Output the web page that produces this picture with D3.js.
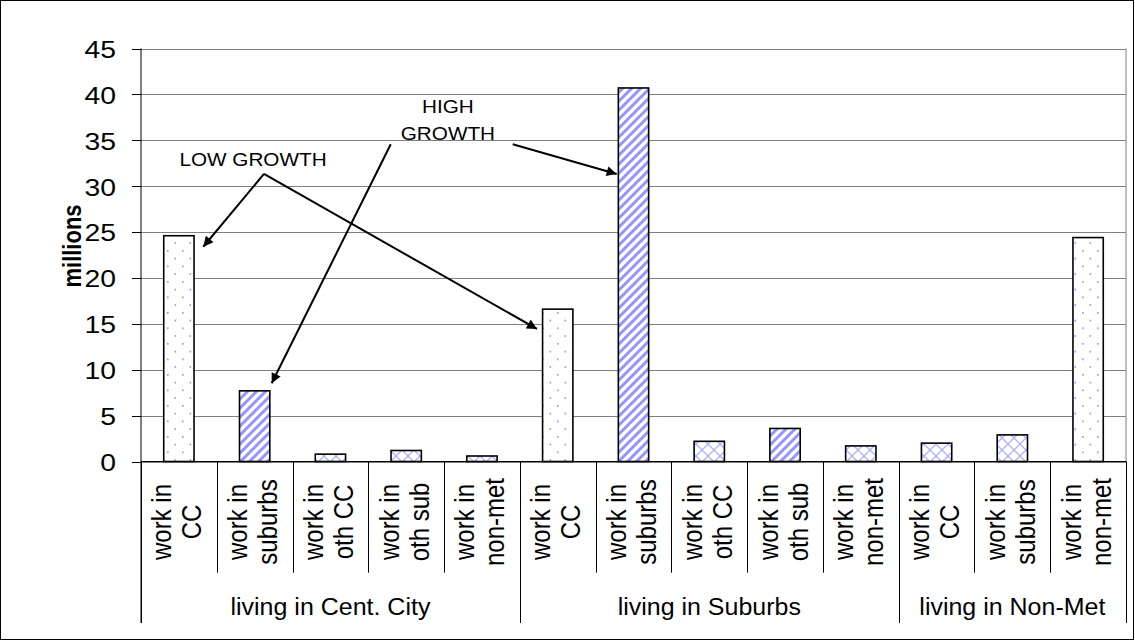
<!DOCTYPE html>
<html>
<head>
<meta charset="utf-8">
<script src="https://cdn.jsdelivr.net/npm/d3@7"></script>
<style>
  body { margin: 0; background: #fff; }
  svg { display: block; }
  text { font-family: "Liberation Sans", Arial, sans-serif; fill: #000; }
</style>
</head>
<body>
<svg id="chart" width="1135" height="641"></svg>
<script>
// category labels (two lines each, drawn rotated)
const workLabels = [
    ["work in", "CC"], ["work in", "suburbs"], ["work in", "oth CC"], ["work in", "oth sub"], ["work in", "non-met"],
    ["work in", "CC"], ["work in", "suburbs"], ["work in", "oth CC"], ["work in", "oth sub"], ["work in", "non-met"],
    ["work in", "CC"], ["work in", "suburbs"], ["work in", "non-met"]
];
const groupNames = ["living in Cent. City", "living in Suburbs", "living in Non-Met"];
const groupSizes = [5, 5, 3];

// commuters, millions
const values = [24.6, 7.7, 0.8, 1.2, 0.6, 16.6, 40.7, 2.2, 3.6, 1.7, 2.0, 2.9, 24.4];
const fills = ["dots", "stripes", "cross", "cross", "cross", "dots", "stripes", "cross", "stripes", "cross", "cross", "cross", "dots"];

const yTicks = [0, 5, 10, 15, 20, 25, 30, 35, 40, 45];

// annotations: [category position, value]
const noteTexts = [
    { text: "LOW GROWTH", pos: [1.478, 32.2] },
    { text: "HIGH", pos: [4.05, 37.94] },
    { text: "GROWTH", pos: [4.05, 35.03] }
];
const arrows = [
    [[1.623, 31.33], [0.822, 23.4]],
    [[1.623, 31.33], [5.226, 14.44]],
    [[3.296, 34.56], [1.725, 8.52]],
    [[4.906, 34.56], [6.278, 31.33]]
];

const W = 1135, H = 641;
const plotLeft = 141, plotRight = 1126, plotTop = 48.5, plotBottom = 461.5;
const sx = 1.18; // tick and category text in the original is a little wider than tall

const svg = d3.select('#chart');

// outer frame
svg.append('rect')
    .attr('x', 0.5).attr('y', 0.5)
    .attr('width', W - 2).attr('height', H - 2)
    .attr('fill', '#fff').attr('stroke', '#000');

// patterns
const defs = svg.append('defs');
const pDots = defs.append('pattern').attr('id', 'dots')
    .attr('patternUnits', 'userSpaceOnUse').attr('width', 15).attr('height', 15.5);
pDots.append('rect').attr('width', 15).attr('height', 15.5).attr('fill', '#fff');
pDots.append('rect').attr('x', 2).attr('y', 2).attr('width', 1.6).attr('height', 1.6).attr('fill', '#8c8cff');
pDots.append('rect').attr('x', 9.5).attr('y', 9.75).attr('width', 1.6).attr('height', 1.6).attr('fill', '#8c8cff');

const pStripes = defs.append('pattern').attr('id', 'stripes')
    .attr('patternUnits', 'userSpaceOnUse').attr('width', 9).attr('height', 9);
pStripes.append('rect').attr('width', 9).attr('height', 9).attr('fill', '#fff');
pStripes.append('path')
    .attr('d', 'M-1,1 l2,-2 M0,9 l9,-9 M8,10 l2,-2')
    .attr('stroke', '#9494ff').attr('stroke-width', 3);

const pCross = defs.append('pattern').attr('id', 'cross')
    .attr('patternUnits', 'userSpaceOnUse').attr('width', 12).attr('height', 12);
pCross.append('rect').attr('width', 12).attr('height', 12).attr('fill', '#fff');
pCross.append('path')
    .attr('d', 'M0,0 L12,12 M12,0 L0,12')
    .attr('stroke', '#b0b0ff').attr('stroke-width', 1.3);

defs.append('marker').attr('id', 'head')
    .attr('viewBox', '0 0 10 10').attr('refX', 10).attr('refY', 5)
    .attr('markerWidth', 6).attr('markerHeight', 5)
    .attr('markerUnits', 'strokeWidth').attr('orient', 'auto')
    .append('path').attr('d', 'M0,0 L10,5 L0,10 Z').attr('fill', '#000');

// scales
const x = d3.scaleBand()
    .domain(d3.range(values.length))
    .range([plotLeft, plotRight])
    .paddingInner(0.6)
    .paddingOuter(0.3);
const step = x.step();
const xPos = p => plotLeft + p * step;

const y = d3.scaleLinear().domain([0, 45]).range([plotBottom, plotTop]);

// grid lines
svg.append('g')
    .attr('transform', `translate(${plotLeft},0)`)
    .call(d3.axisLeft(y).tickValues(yTicks).tickSize(-(plotRight - plotLeft)).tickFormat(''))
    .call(g => g.select('.domain').remove())
    .selectAll('line')
    .attr('stroke', '#808080')
    .attr('shape-rendering', 'crispEdges');

// plot border on the right
svg.append('line')
    .attr('x1', plotRight).attr('x2', plotRight).attr('y1', plotTop).attr('y2', plotBottom)
    .attr('stroke', '#808080');

// bars
svg.selectAll('.bar')
    .data(values)
    .enter()
    .append('rect')
    .attr('class', 'bar')
    .attr('x', (d, i) => x(i))
    .attr('width', x.bandwidth())
    .attr('y', d => y(d))
    .attr('height', d => plotBottom - y(d))
    .attr('fill', (d, i) => `url(#${fills[i]})`)
    .attr('stroke', '#000')
    .attr('stroke-width', 1.6);

// y axis
const yAxis = svg.append('g')
    .attr('transform', `translate(${plotLeft},0)`)
    .call(d3.axisLeft(y).tickValues(yTicks).tickSize(9).tickSizeOuter(0).tickPadding(16));
yAxis.select('.domain').remove();
yAxis.selectAll('line').attr('stroke', '#000').attr('shape-rendering', 'crispEdges');
yAxis.selectAll('text')
    .attr('transform', function() {
        return `translate(${this.getAttribute('x')},0) scale(${sx},1)`;
    })
    .attr('x', 0)
    .attr('dy', '0.37em')
    .style('font-size', '24px')
    .style('font-family', '"Liberation Sans", Arial, sans-serif');

svg.append('line')
    .attr('x1', plotLeft).attr('x2', plotLeft).attr('y1', plotTop).attr('y2', 623)
    .attr('stroke', '#000');

// baseline
svg.append('line')
    .attr('x1', plotLeft).attr('x2', plotRight).attr('y1', plotBottom).attr('y2', plotBottom)
    .attr('stroke', '#000');

// category separators
const groupEdges = [0];
groupSizes.forEach(n => groupEdges.push(groupEdges[groupEdges.length - 1] + n));
d3.range(values.length + 1).forEach(i => {
    const gx = Math.round(xPos(i)) + 0.5;
    svg.append('line')
        .attr('x1', gx).attr('x2', gx)
        .attr('y1', plotBottom).attr('y2', groupEdges.includes(i) ? 623 : 572.7)
        .attr('stroke', '#000');
});

// rotated category labels
workLabels.forEach((lines, i) => {
    const cx = xPos(i + 0.5);
    lines.forEach((t, k) => {
        svg.append('text')
            .attr('transform', `translate(${cx - 7.5 + k * 30},522) scale(${sx},1) rotate(-90)`)
            .attr('text-anchor', 'middle')
            .style('font-size', '24px')
            .text(t);
    });
});

// group labels
groupNames.forEach((name, g) => {
    const cx = xPos((groupEdges[g] + groupEdges[g + 1]) / 2);
    svg.append('text')
        .attr('transform', `translate(${cx},615) scale(1.02,1)`)
        .attr('text-anchor', 'middle')
        .style('font-size', '24.5px')
        .text(name);
});

// y axis title
svg.append('text')
    .attr('transform', `translate(81,246) scale(${sx},1) rotate(-90)`)
    .attr('text-anchor', 'middle')
    .style('font-size', '22px')
    .style('font-weight', 'bold')
    .text('millions');

// annotations
noteTexts.forEach(n => {
    svg.append('text')
        .attr('transform', `translate(${xPos(n.pos[0])},${y(n.pos[1])}) scale(1.12,1)`)
        .attr('text-anchor', 'middle')
        .style('font-size', '18.5px')
        .text(n.text);
});

arrows.forEach(a => {
    svg.append('line')
        .attr('x1', xPos(a[0][0])).attr('y1', y(a[0][1]))
        .attr('x2', xPos(a[1][0])).attr('y2', y(a[1][1]))
        .attr('stroke', '#000')
        .attr('stroke-width', 2)
        .attr('marker-end', 'url(#head)');
});
</script>
</body>
</html>
